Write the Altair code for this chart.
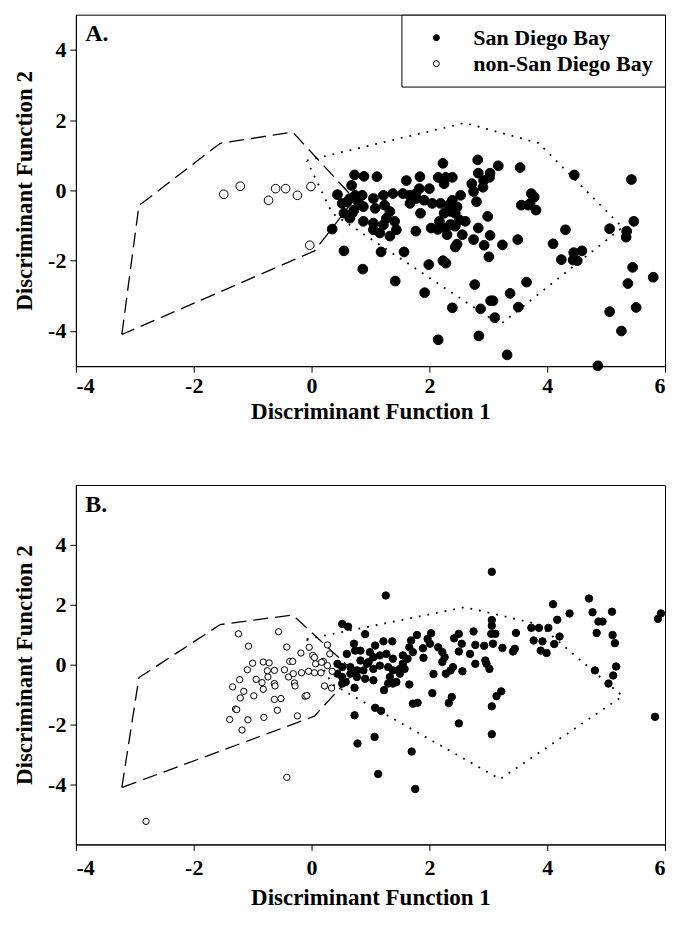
import altair as alt
import pandas as pd

FONT = "Liberation Serif"
GROUPS = ["San Diego Bay", "non-San Diego Bay"]
X_TICKS = [-4, -2, 0, 2, 4, 6]
Y_TICKS = [-4, -2, 0, 2, 4]

# ---- hull outlines (same in both panels)
DASH_X = [-3.22, -2.93, -1.55, -0.32, 0.73, 0.05, -3.22]
DASH_Y = [-4.10, -0.43, 1.34, 1.66, -0.25, -1.72, -4.10]
DOT_X = [-0.08, 2.60, 3.85, 5.28, 3.20, 0.35, -0.08]
DOT_Y = [0.85, 1.92, 1.35, -1.05, -3.82, -0.65, 0.85]

# ---- Panel A
A_SDB_X = [2.23, 2.82, 3.17, 3.54, 4.46, 5.43, 0.73, 0.89, 1.11, 1.61, 1.84, 2.15, 2.28, 2.39, 2.25,
           2.83, 2.92, 3.03, 2.72, 2.75, 0.68, 0.44, 0.74, 0.86, 1.05, 1.22, 1.38, 1.55, 1.66, 1.77,
           1.83, 2.00, 1.91, 2.05, 2.19, 2.39, 2.47, 2.53, 2.36, 2.44, 0.52, 0.60, 0.69, 0.55, 0.88,
           1.08, 1.24, 1.33, 0.88, 1.05, 1.22, 1.05, 1.41, 1.44, 1.33, 1.77, 2.03, 2.17, 2.28, 2.30,
           2.44, 2.61, 2.56, 2.44, 2.83, 2.75, 2.93, 3.03, 2.99, 3.24, 3.50, 3.01, 3.73, 3.68, 3.81,
           3.56, 4.31, 4.10, 4.24, 4.45, 4.59, 4.51, 4.44, 5.06, 5.35, 5.34, 5.47, 0.55, 0.87, 1.18,
           1.57, 1.99, 2.23, 2.28, 1.42, 1.92, 2.77, 3.65, 3.37, 2.39, 2.87, 3.04, 3.08, 3.11, 3.51,
           2.15, 2.84, 3.32, 4.86, 5.45, 5.37, 5.80, 5.06, 5.51, 5.26, 0.35, 3.02, 2.91, 2.80, 1.78,
           2.33, 1.67, 1.85, 2.25, 2.36, 2.51, 2.14, 2.47, 1.27, 1.16, 0.72, 0.65, 0.65, 0.79, 3.78,
           3.71]
A_SDB_Y = [0.77, 0.87, 0.70, 0.65, 0.44, 0.31, 0.44, 0.40, 0.39, 0.28, 0.39, 0.37, 0.37, 0.37, 0.19,
           0.49, 0.28, 0.49, 0.19, -0.03, 0.14, -0.12, -0.14, -0.14, -0.23, -0.14, -0.09, -0.09, -0.14, -0.09,
           0.05, 0.05, -0.28, -0.37, -0.37, -0.28, -0.47, -0.14, -0.60, -0.65, -0.37, -0.33, -0.65, -0.65, -0.46,
           -0.51, -0.42, -0.60, -0.88, -0.93, -0.98, -1.12, -0.88, -1.12, -1.30, -1.16, -1.07, -0.88, -1.07, -1.26,
           -1.02, -0.88, -1.26, -1.61, -1.07, -1.40, -1.56, -1.28, -0.74, -1.55, -1.40, -1.89, -0.09, -0.42, -0.56,
           -0.42, -1.12, -1.52, -1.97, -1.77, -1.72, -2.00, -1.98, -1.09, -1.16, -1.33, -0.88, -1.72, -2.24, -1.75,
           -1.75, -2.11, -2.00, -2.07, -2.58, -2.91, -2.68, -2.61, -2.93, -3.34, -3.37, -3.14, -3.14, -3.62, -3.32,
           -4.25, -4.14, -4.68, -4.99, -2.19, -2.65, -2.47, -3.45, -3.33, -4.00, -1.10, 0.37, 0.09, -0.32, -0.23,
           -0.42, -0.37, -0.65, -0.65, -0.97, -0.84, -1.11, -1.53, -0.79, -1.21, -0.56, -0.79, -0.23, -0.32, -0.19,
           -0.37]
A_NON_X = [-1.49, -1.21, -0.73, -0.61, -0.44, -0.24, -0.01, -0.03]
A_NON_Y = [-0.11, 0.12, -0.28, 0.05, 0.05, -0.14, 0.11, -1.56]

# ---- Panel B
B_SDB_X = [3.06, 1.26, 4.71, 4.10, 4.38, 5.10, 4.77, 5.93, 5.88, 4.17, 3.06, 4.87, 4.94, 4.84, 0.52,
           0.62, 3.06, 3.05, 3.12, 0.91, 2.75, 3.47, 3.73, 3.86, 4.02, 3.77, 3.92, 3.89, 3.99, 4.21,
           4.12, 5.11, 5.15, 2.03, 1.79, 1.69, 1.66, 2.42, 2.50, 2.55, 2.50, 2.69, 2.78, 2.78, 2.93,
           3.08, 3.24, 3.42, 3.45, 2.95, 2.97, 3.02, 2.15, 2.22, 2.26, 1.97, 2.01, 1.89, 1.90, 2.22,
           2.40, 2.36, 2.28, 2.56, 2.07, 1.66, 2.05, 2.38, 2.33, 1.72, 1.80, 3.14, 3.22, 3.06, 2.50,
           3.06, 4.81, 5.17, 5.12, 5.04, 5.83, 0.73, 1.08, 1.18, 0.78, 1.07, 1.70, 1.13, 1.76, 1.23,
           0.73, 0.72, 0.74, 0.60, 0.83, 0.99, 1.08, 1.22, 1.37, 0.83, 0.97, 1.05, 1.16, 1.27, 1.38,
           0.44, 0.52, 0.66, 0.77, 0.88, 0.94, 1.05, 1.16, 1.30, 1.38, 1.50, 1.55, 1.63, 0.44, 0.52,
           0.58, 0.52, 0.66, 0.77, 0.91, 1.05, 1.33, 1.38, 1.50, 1.44, 1.30, 1.58, 1.72, 1.55]
B_SDB_Y = [3.10, 2.31, 2.21, 2.02, 1.71, 1.77, 1.75, 1.71, 1.53, 1.50, 1.49, 1.44, 1.44, 1.06, 1.36,
           1.27, 1.30, 1.03, 1.03, 1.02, 1.11, 1.06, 1.23, 1.23, 1.23, 0.81, 0.78, 0.47, 0.39, 0.94,
           0.69, 0.99, 0.72, 1.05, 0.99, 0.81, 0.58, 0.88, 1.03, 0.70, 0.44, 0.36, 0.66, 0.03, 0.63,
           0.70, 0.56, 0.44, 0.53, 0.14, 0.03, -0.14, 0.58, 0.42, 0.25, 0.86, 0.70, 0.55, 0.23, 0.09,
           -0.08, -0.19, -0.30, -0.22, -0.31, -0.66, -0.95, -1.08, -1.28, -1.30, -1.27, -1.05, -0.89, -1.39, -1.96,
           -2.32, -0.19, -0.06, -0.36, -0.63, -1.74, -1.69, -1.44, -1.54, -2.63, -2.41, -2.90, -3.65, -4.15, -0.85,
           -0.77, 0.70, 0.47, 0.36, 0.47, 0.42, 0.64, 0.78, 0.78, 0.14, 0.09, 0.25, 0.31, 0.36, 0.20,
           0.03, -0.08, -0.08, -0.19, -0.19, 0.03, -0.14, -0.03, -0.08, -0.19, -0.14, 0.03, 0.20, -0.30, -0.41,
           -0.58, -0.63, -0.30, -0.41, -0.47, -0.52, -0.41, -0.63, -0.30, -0.58, -0.63, -0.14, 0.42, 0.31]
B_NON_X = [-1.24, -0.56, -1.07, -0.42, -0.18, -0.04, 0.02, 0.27, 0.31, -1.00, -0.82, -0.72, -1.09, -0.63,
           -0.46, -0.37, -0.32, -0.17, -0.05, 0.05, 0.16, 0.07, 0.20, 0.35, -1.22, -1.34, -1.15, -1.21,
           -0.94, -0.84, -0.74, -0.63, -0.82, -0.62, -0.98, -0.39, -0.31, -0.29, -0.28, 0.22, 0.34, -0.11,
           -0.08, -0.63, -0.52, -1.29, -1.27, -0.58, -1.39, -1.08, -0.81, -0.24, -1.18, -0.42, -2.81,
           0.05, 0.17, 0.27, -0.75]
B_NON_Y = [1.03, 1.10, 0.62, 0.59, 0.39, 0.58, 0.31, 0.66, 0.36, 0.05, 0.09, 0.06, -0.17, -0.19,
           -0.17, 0.11, 0.11, -0.27, -0.22, -0.27, -0.27, 0.03, 0.11, -0.22, -0.50, -0.74, -0.89, -1.11,
           -0.49, -0.60, -0.41, -0.63, -0.82, -0.71, -1.04, -0.41, -0.30, -0.61, -0.71, -0.71, -0.78, -1.05,
           -1.03, -1.16, -1.13, -1.48, -1.50, -1.52, -1.83, -1.84, -1.76, -1.71, -2.18, -3.76, -5.23,
           0.24, 0.08, -0.03, -0.20]

PLOT_W = 590


def pts_df(xs, ys, group):
    return pd.DataFrame({"x": xs, "y": ys, "group": [group] * len(xs)})


def hull_df(xs, ys):
    return pd.DataFrame({"x": xs, "y": ys, "i": list(range(len(xs)))})


def panel(sdb, non, tag, tag_xy, ydom, sizes, height, show_legend, x_lab_pad, x_title_pad):
    xenc = alt.X("x:Q", scale=alt.Scale(domain=[-4, 6], nice=False, zero=False),
                 axis=alt.Axis(values=X_TICKS, title="Discriminant Function 1",
                               labelExpr="'' + datum.value", labelPadding=x_lab_pad,
                               labelFlush=True, titlePadding=x_title_pad))
    yenc = alt.Y("y:Q", scale=alt.Scale(domain=ydom, nice=False, zero=False),
                 axis=alt.Axis(values=Y_TICKS, title="Discriminant Function 2",
                               labelExpr="'' + datum.value", labelPadding=4, titlePadding=11))
    dashed = alt.Chart(hull_df(DASH_X, DASH_Y)).mark_line(
        color="black", strokeWidth=1.3, strokeDash=[15, 7]
    ).encode(x=xenc, y=yenc, order="i:Q")
    dotted = alt.Chart(hull_df(DOT_X, DOT_Y)).mark_line(
        color="black", strokeWidth=1.8, strokeDash=[1.8, 7]
    ).encode(x=xenc, y=yenc, order="i:Q")
    if show_legend:
        leg = alt.Legend(
            title=None, orient="top-right", offset=0, fillColor="white", strokeColor="black",
            padding=12, symbolOffset=12, labelOffset=26, rowPadding=4, symbolSize=36,
            symbolType="circle", symbolStrokeColor="black", symbolStrokeWidth=1,
            labelFont=FONT, labelFontSize=22, labelFontWeight="bold", labelColor="black",
            labelLimit=400,
        )
    else:
        leg = None
    fill = alt.Fill("group:N", scale=alt.Scale(domain=GROUPS, range=["black", "white"]), legend=leg)
    p_sdb = alt.Chart(sdb).mark_point(
        shape="circle", filled=True, stroke="black", strokeWidth=1, opacity=1, size=sizes[0]
    ).encode(x=xenc, y=yenc, fill=fill)
    p_non = alt.Chart(non).mark_point(
        shape="circle", filled=True, stroke="black", strokeWidth=1, opacity=1, size=sizes[1]
    ).encode(x=xenc, y=yenc, fill=fill)
    label = alt.Chart(pd.DataFrame({"t": [tag]})).mark_text(
        align="left", baseline="top", font=FONT, fontSize=24, fontWeight="bold", color="black"
    ).encode(x=alt.datum(tag_xy[0]), y=alt.datum(tag_xy[1]), text="t:N")
    return alt.layer(dashed, dotted, p_sdb, p_non, label).properties(width=PLOT_W, height=height)


A = panel(pts_df(A_SDB_X, A_SDB_Y, GROUPS[0]), pts_df(A_NON_X, A_NON_Y, GROUPS[1]),
          "A.", (-3.84, 4.78), [-5, 5], [95, 75], 352, True, 3, 4)
B = panel(pts_df(B_SDB_X, B_SDB_Y, GROUPS[0]), pts_df(B_NON_X, B_NON_Y, GROUPS[1]),
          "B.", (-3.84, 5.72), [-6, 6], [55, 40], 360, False, 7, 8)

chart = alt.vconcat(A, B, spacing=60).resolve_scale(
    x="independent", y="independent", fill="independent"
).resolve_legend(fill="independent").configure_view(
    stroke="black", strokeWidth=1
).configure_axis(
    labelFont=FONT, labelFontSize=22, labelFontWeight="bold", labelColor="black",
    titleFont=FONT, titleFontSize=23, titleFontWeight="bold", titleColor="black",
    grid=False, domainColor="black", tickColor="black", tickSize=6,
)

chart.save("out.html", embed_options={"renderer": "svg", "actions": False})
